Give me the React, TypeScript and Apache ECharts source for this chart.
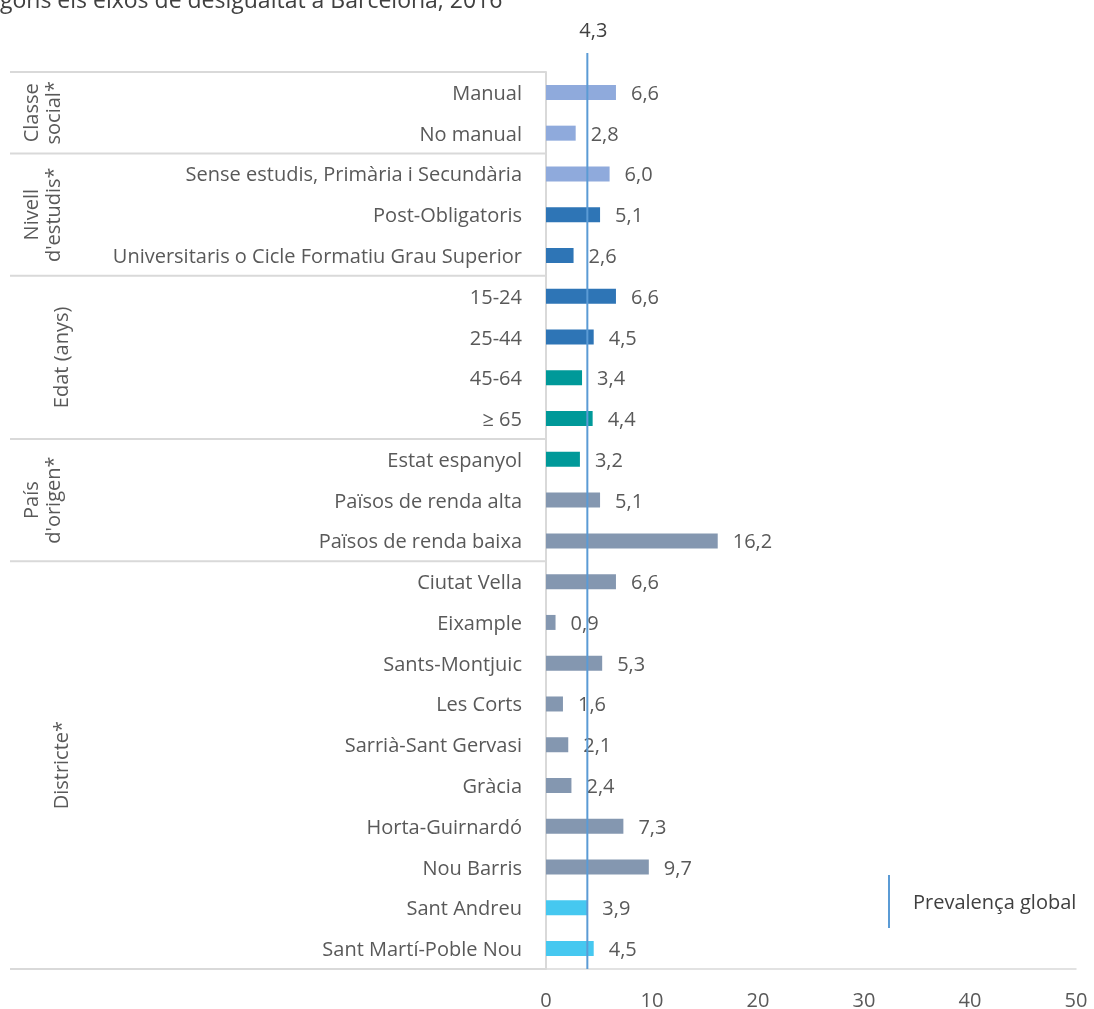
import React, { useEffect, useRef } from "react";
import * as echarts from "echarts";

const categories = [
  "Manual",
  "No manual",
  "Sense estudis, Primària i Secundària",
  "Post-Obligatoris",
  "Universitaris o Cicle Formatiu Grau Superior",
  "15-24",
  "25-44",
  "45-64",
  "≥ 65",
  "Estat espanyol",
  "Països de renda alta",
  "Països de renda baixa",
  "Ciutat Vella",
  "Eixample",
  "Sants-Montjuic",
  "Les Corts",
  "Sarrià-Sant Gervasi",
  "Gràcia",
  "Horta-Guirnardó",
  "Nou Barris",
  "Sant Andreu",
  "Sant Martí-Poble Nou",
];

const values = [6.6, 2.8, 6.0, 5.1, 2.6, 6.6, 4.5, 3.4, 4.4, 3.2, 5.1, 16.2, 6.6, 0.9, 5.3, 1.6, 2.1, 2.4, 7.3, 9.7, 3.9, 4.5];

const C_LIGHT = "#8faadc";
const C_DARK = "#2e75b6";
const C_TEAL = "#009999";
const C_GREY = "#8497b0";
const C_CYAN = "#46c8f0";
const barColors = [
  C_LIGHT, C_LIGHT, C_LIGHT, C_DARK, C_DARK, C_DARK, C_DARK, C_TEAL, C_TEAL, C_TEAL,
  C_GREY, C_GREY, C_GREY, C_GREY, C_GREY, C_GREY, C_GREY, C_GREY, C_GREY, C_GREY, C_CYAN, C_CYAN,
];

const groupLabels = ["Classe\nsocial*", "Nivell\nd'estudis*", "Edat (anys)", "País\nd'origen*", "Districte*"];
const groupStart = [0, 2, 5, 9, 12];
const groupEnd = [1, 4, 8, 11, 21];

const globalLabel = "4,3";
const globalLinePos = 3.9;
const xTicks = [0, 10, 20, 30, 40, 50];

const FONT = "Open Sans";
const TXT = "#595959";
const GRID_LINE = "#d9d9d9";
const FS = 20;

export default function App() {
  const ref = useRef<HTMLDivElement>(null);
  useEffect(() => {
    if (!ref.current) return;
    const chart = echarts.init(ref.current, null, { renderer: "svg" });
    const option: any = {
      animation: false,
      textStyle: { fontFamily: FONT },
      grid: [
        { left: 546, right: 18, top: 72, bottom: 40 },
        { left: 546, right: 18, top: 53, bottom: 40 },
      ],
      legend: {
        data: ["Prevalença global"],
        left: 888,
        top: 875,
        padding: 0,
        icon: "rect",
        itemWidth: 2,
        itemHeight: 53,
        itemGap: 0,
        textStyle: { fontFamily: FONT, fontSize: 20, color: "#404040", padding: [0, 0, 0, 18] },
      },
      xAxis: [
        {
          gridIndex: 0,
          type: "value",
          min: xTicks[0],
          max: xTicks[xTicks.length - 1],
          interval: 10,
          axisLine: { show: true, lineStyle: { color: GRID_LINE, width: 1.5 } },
          axisTick: { show: false },
          splitLine: { show: false },
          axisLabel: { color: TXT, fontSize: FS, fontFamily: FONT, margin: 21, lineHeight: 18 },
        },
        {
          gridIndex: 1,
          type: "value",
          min: xTicks[0],
          max: xTicks[xTicks.length - 1],
          show: false,
        },
      ],
      yAxis: [
        {
          gridIndex: 0,
          type: "category",
          data: categories,
          inverse: true,
          axisLine: { show: true, lineStyle: { color: GRID_LINE, width: 2 } },
          axisTick: { show: false },
          axisLabel: { color: TXT, fontSize: FS, fontFamily: FONT, margin: 24 },
        },
        { gridIndex: 1, type: "value", min: 0, max: 1, show: false },
      ],
      series: [
        {
          type: "bar",
          xAxisIndex: 0,
          yAxisIndex: 0,
          barWidth: 15,
          data: values.map((v, i) => ({ value: v, itemStyle: { color: barColors[i] } })),
          label: {
            show: true,
            position: "right",
            distance: 15,
            color: TXT,
            fontSize: FS,
            fontFamily: FONT,
            formatter: (p: any) => p.value.toFixed(1).replace(".", ","),
          },
          z: 2,
        },
        {
          name: "Prevalença global",
          type: "line",
          xAxisIndex: 1,
          yAxisIndex: 1,
          color: "#5b9bd5",
          symbol: "circle",
          symbolSize: 0,
          showSymbol: true,
          lineStyle: { color: "#5b9bd5", width: 2 },
          data: [
            [globalLinePos, 0],
            {
              value: [globalLinePos, 1],
              label: {
                show: true,
                position: "top",
                distance: 14,
                offset: [6, 0],
                formatter: globalLabel,
                color: "#404040",
                fontSize: FS,
                fontFamily: FONT,
              },
            },
          ],
          z: 3,
        },
      ],
    };
    chart.setOption(option);

    const yPix = (i: number) => chart.convertToPixel({ gridIndex: 0 } as any, [0, i])[1];
    const gridTop = 72;
    const gridBottom = 1009 - 40;
    const graphics: any[] = [];
    const boundaries: number[] = [gridTop];
    for (let g = 0; g < groupStart.length - 1; g++) {
      boundaries.push((yPix(groupEnd[g]) + yPix(groupStart[g + 1])) / 2);
    }
    boundaries.push(gridBottom);
    boundaries.forEach((y) => {
      graphics.push({
        type: "line",
        shape: { x1: 10, y1: y, x2: 546, y2: y },
        style: { stroke: GRID_LINE, lineWidth: 2 },
        silent: true,
      });
    });
    groupLabels.forEach((lab, g) => {
      const cy = (yPix(groupStart[g]) + yPix(groupEnd[g])) / 2;
      const twoLine = lab.indexOf("\n") >= 0;
      graphics.push({
        type: "text",
        x: twoLine ? 41 : 60,
        y: cy,
        rotation: Math.PI / 2,
        style: {
          text: lab,
          fill: TXT,
          font: `${FS}px '${FONT}'`,
          align: "center",
          verticalAlign: "middle",
          lineHeight: 22,
        },
      });
    });
    graphics.push({
      type: "text",
      x: 0,
      y: -1,
      style: {
        text: "gons els eixos de desigualtat a Barcelona, 2016",
        fill: "#404040",
        font: `23px '${FONT}'`,
        align: "left",
        verticalAlign: "middle",
      },
    });
    chart.setOption({ graphic: graphics });

    return () => chart.dispose();
  }, []);
  return <div ref={ref} style={{ position: "fixed", left: 0, top: 0, width: 1094, height: 1009 }} />;
}
